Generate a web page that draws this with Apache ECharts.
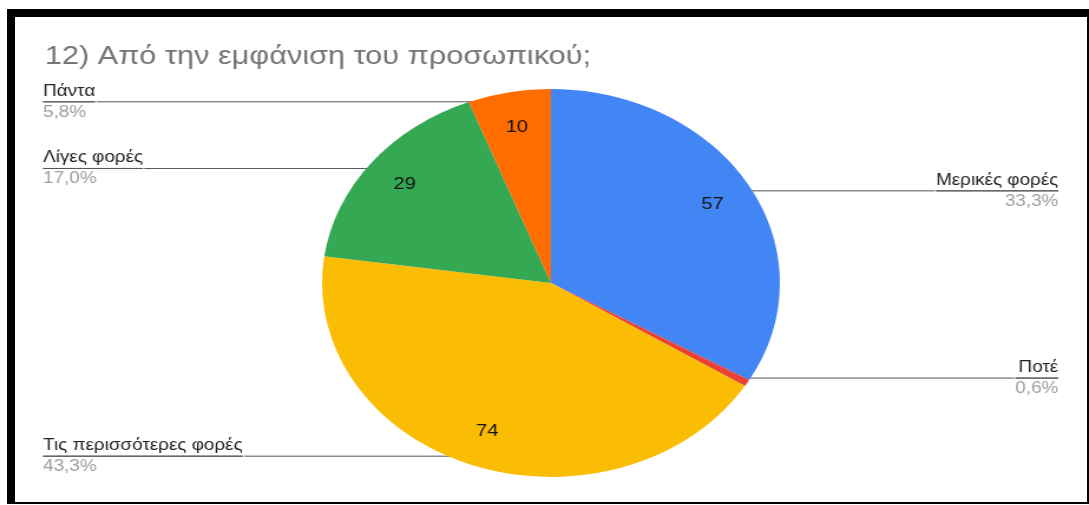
<!DOCTYPE html>
<html>
<head>
<meta charset="utf-8">
<title>12) Από την εμφάνιση του προσωπικού;</title>
<script src="https://cdn.jsdelivr.net/npm/echarts@6/dist/echarts.min.js"></script>
<style>
  html, body { margin: 0; padding: 0; background: #fff; width: 1089px; height: 505px; overflow: hidden; }
  /* the chart is laid out narrower and widened horizontally, giving the oval pie */
  #chart { position: absolute; left: 0; top: 0; width: 923px; height: 505px;
           transform: scaleX(1.1798); transform-origin: 0 0; }
  #frame { position: absolute; left: 7px; top: 9px; width: 1072px; height: 485px;
           border-style: solid; border-color: #000; border-width: 8px 2px 2px 8px;
           pointer-events: none; }
</style>
</head>
<body>
<div id="chart"></div>
<div id="frame"></div>
<script>
// Answers to question 12, in clockwise order from the top of the pie
const titleText = '12) Από την εμφάνιση του προσωπικού;';
const categories = ['Μερικές φορές', 'Ποτέ', 'Τις περισσότερες φορές', 'Λίγες φορές', 'Πάντα'];
const counts = [57, 1, 74, 29, 10];

const palette = ['#4285F4', '#EA4335', '#FBBC04', '#34A853', '#FF6D01'];
const FONT = '"Liberation Sans", Arial, sans-serif';
const CENTER = [467, 283];
const R = 194;

// which side of the pie each slice's callout sits on
const total = counts.reduce((a, b) => a + b, 0);
let acc = 0;
const sides = counts.map(v => {
  const mid = (acc + v / 2) / total * 360;
  acc += v;
  return mid < 180 ? 'right' : 'left';
});

const chart = echarts.init(document.getElementById('chart'), null, { renderer: 'canvas' });

const option = {
  backgroundColor: '#ffffff',
  animation: false,
  color: palette,
  title: {
    text: titleText,
    left: 38,
    top: 44,
    padding: 0,
    textStyle: { fontFamily: FONT, fontSize: 26, fontWeight: 'normal', color: '#757575' }
  },
  series: [
    {
      // coloured slices
      type: 'pie',
      center: CENTER,
      radius: R,
      silent: true,
      label: { show: false },
      labelLine: { show: false },
      data: categories.map((c, i) => ({ name: c, value: counts[i] }))
    },
    {
      // callouts: name above the leader line, share below it
      type: 'pie',
      center: CENTER,
      radius: R * 0.95,
      silent: true,
      percentPrecision: 1,
      itemStyle: { color: 'rgba(0,0,0,0)' },
      label: {
        show: true,
        position: 'outside',
        alignTo: 'edge',
        distanceToLabelLine: 0,
        formatter: p => '{n|' + p.name + '}\n{hr|}\n{p|' + p.percent.toFixed(1).replace('.', ',') + '%}',
        rich: {
          n: { fontFamily: FONT, fontSize: 16, lineHeight: 21, color: '#222222' },
          hr: { width: '100%', height: 0, borderColor: '#555555', borderWidth: 1 },
          p: { fontFamily: FONT, fontSize: 16, lineHeight: 21, color: '#9e9e9e' }
        }
      },
      labelLine: { show: true, length: 0, length2: 10, smooth: false, lineStyle: { color: '#555555', width: 1 } },
      data: categories.map((c, i) => ({
        name: c,
        value: counts[i],
        label: { edgeDistance: sides[i] === 'left' ? 36.5 : 26 }
      }))
    },
    {
      // counts written inside the slices
      type: 'pie',
      center: CENTER,
      radius: [R * 0.6, R],
      silent: true,
      itemStyle: { color: 'rgba(0,0,0,0)' },
      label: { show: true, position: 'inside', formatter: '{c}', fontFamily: FONT, fontSize: 17, color: '#111111' },
      labelLine: { show: false },
      data: categories.map((c, i) => ({
        name: c,
        value: counts[i],
        label: { show: counts[i] / total >= 0.03 }
      }))
    }
  ]
};

chart.setOption(option);
</script>
</body>
</html>
